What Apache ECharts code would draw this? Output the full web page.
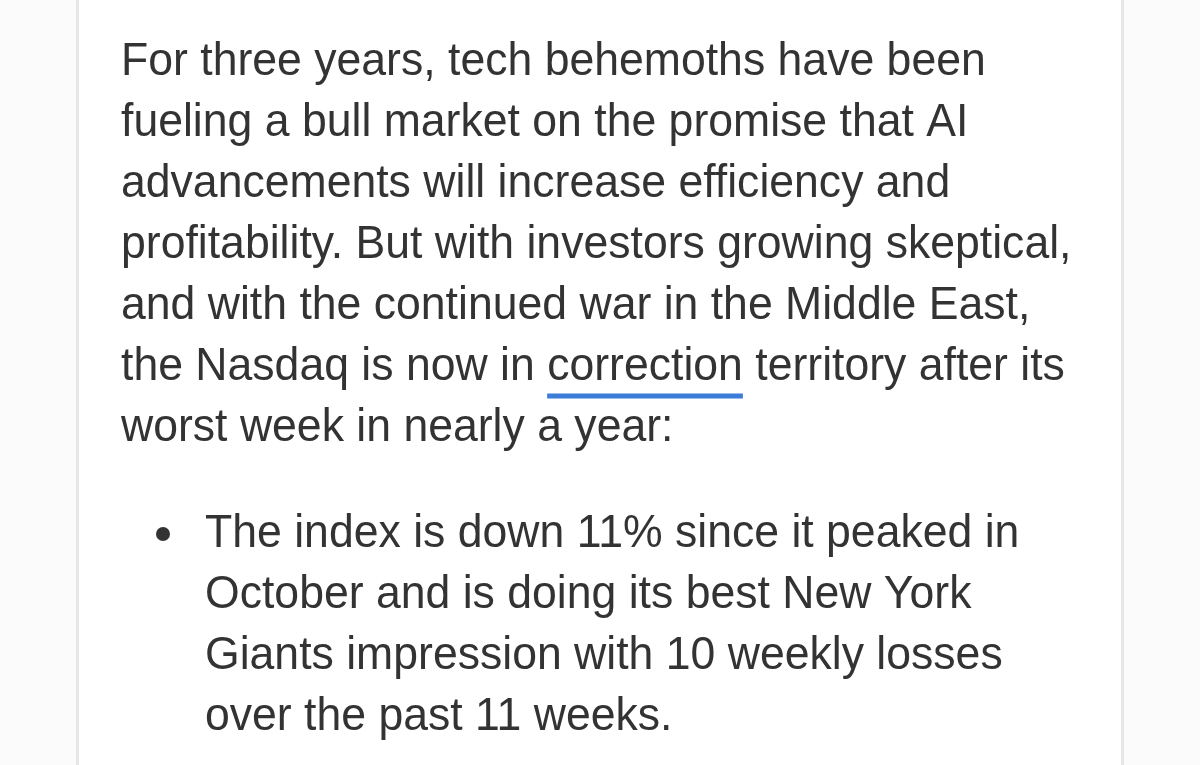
<!DOCTYPE html>
<html><head><meta charset="utf-8">
<script src="https://cdn.jsdelivr.net/npm/echarts@6/dist/echarts.min.js"></script>
<style>html,body{margin:0;padding:0;background:#fff;}#c{width:1200px;height:765px;}</style>
</head><body><div id="c"></div>
<script>
const paragraphLines = [
  "For three years, tech behemoths have been",
  "fueling a bull market on the promise that AI",
  "advancements will increase efficiency and",
  "profitability. But with investors growing skeptical,",
  "and with the continued war in the Middle East,",
  ["the Nasdaq is now in ", "correction", " territory after its"],
  "worst week in nearly a year:"
];
const bulletLines = [
  "The index is down 11% since it peaked in",
  "October and is doing its best New York",
  "Giants impression with 10 weekly losses",
  "over the past 11 weeks."
];

const FONT_SIZE = 46;
const FONT_FAMILY = "'Liberation Sans', Arial, Helvetica, sans-serif";
const TEXT_COLOR = "#333333";
const LINK_COLOR = "#3b7dd8";
const LINE_H = 61.1;
const SX = 0.969;
const TOP_TO_BASE = 37;

const cv = document.createElement('canvas').getContext('2d');
cv.font = FONT_SIZE + "px " + FONT_FAMILY;
function w(s){ return cv.measureText(s).width * SX; }

const chart = echarts.init(document.getElementById('c'), null, {renderer:'canvas'});
const els = [];
els.push({type:'rect', shape:{x:0,y:0,width:1200,height:765}, style:{fill:'#fbfbfb'}, silent:true});
els.push({type:'rect', shape:{x:76,y:0,width:1048,height:765}, style:{fill:'#ffffff'}, silent:true});
els.push({type:'rect', shape:{x:76,y:0,width:3,height:765}, style:{fill:'#e6e6e6'}, silent:true});
els.push({type:'rect', shape:{x:1121,y:0,width:3,height:765}, style:{fill:'#e6e6e6'}, silent:true});

function txt(s, x, baseline){
  els.push({type:'text', x:x, y:baseline - TOP_TO_BASE, scaleX:SX,
    style:{text:s, fill:TEXT_COLOR, font: FONT_SIZE+"px "+FONT_FAMILY, verticalAlign:'top', align:'left'}, silent:true});
}
const left = 121;
const base = 76;
paragraphLines.forEach((ln, i) => {
  const b = base + i*LINE_H;
  if (Array.isArray(ln)) {
    let x = left;
    ln.forEach((p, j) => {
      txt(p, x, b);
      const pw = w(p);
      if (j === 1) {
        els.push({type:'rect', shape:{x:x, y:b+12, width:pw, height:5}, style:{fill:LINK_COLOR}, silent:true});
      }
      x += pw;
    });
  } else {
    txt(ln, left, b);
  }
});
const bLeft = 205;
const bBase = 548;
els.push({type:'circle', shape:{cx:163, cy:bBase-14, r:7}, style:{fill:TEXT_COLOR}, silent:true});
bulletLines.forEach((ln, i) => txt(ln, bLeft, bBase + i*LINE_H));

chart.setOption({animation:false, graphic: els});
</script></body></html>
